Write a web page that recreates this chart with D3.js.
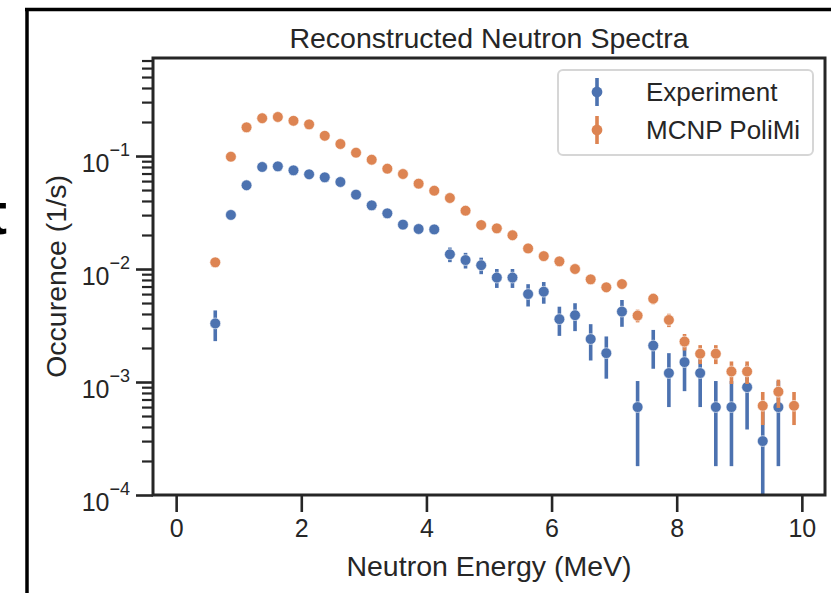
<!DOCTYPE html>
<html>
<head>
<meta charset="utf-8">
<script src="https://cdn.jsdelivr.net/npm/d3@7"></script>
<style>
  body { margin: 0; background: #fff; }
  svg { display: block; font-family: "Liberation Sans", Arial, sans-serif; }
</style>
</head>
<body>
<svg width="831" height="593"></svg>
<script>
// neutron energy bin centres (MeV)
var energy = [0.625, 0.875, 1.125, 1.375, 1.625, 1.875, 2.125, 2.375, 2.625, 2.875,
  3.125, 3.375, 3.625, 3.875, 4.125, 4.375, 4.625, 4.875, 5.125, 5.375,
  5.625, 5.875, 6.125, 6.375, 6.625, 6.875, 7.125, 7.375, 7.625, 7.875,
  8.125, 8.375, 8.625, 8.875, 9.125, 9.375, 9.625, 9.875];

// Experiment (1/s) and its error
var expVal = [0.0033, 0.0301, 0.0551, 0.0800, 0.0810, 0.0747, 0.0689, 0.0648, 0.0589, 0.0455,
  0.0366, 0.0311, 0.0247, 0.0226, 0.0224, 0.0135, 0.0120, 0.0108, 0.0084, 0.0084,
  0.0060, 0.0063, 0.0036, 0.0039, 0.0024, 0.0018, 0.0042, 0.0006, 0.0021, 0.0012,
  0.0015, 0.0012, 0.0006, 0.0006, 0.0009, 0.0003, 0.0006, null];
var expErr = [0.0010, 0.0009, 0.0016, 0.0020, 0.0020, 0.0019, 0.0018, 0.0017, 0.0016, 0.0014,
  0.0012, 0.0011, 0.0010, 0.0009, 0.0009, 0.0020, 0.0019, 0.0018, 0.0016, 0.0016,
  0.00134, 0.00137, 0.00104, 0.00108, 0.00085, 0.00073, 0.00112, 0.00042, 0.00079, 0.0006,
  0.00067, 0.0006, 0.00042, 0.00042, 0.00052, 0.0003, 0.00042, null];

// MCNP PoliMi simulation (1/s) and its error
var mcnpVal = [0.01146, 0.0986, 0.1795, 0.216, 0.2215, 0.205, 0.1906, 0.151, 0.1277, 0.107,
  0.0927, 0.0772, 0.0693, 0.0569, 0.0493, 0.0425, 0.0328, 0.0245, 0.0229, 0.0199,
  0.0152, 0.0130, 0.0117, 0.0100, 0.0081, 0.00689, 0.00736, 0.00387, 0.00546, 0.00354,
  0.00228, 0.00178, 0.00178, 0.00124, 0.00124, 0.000616, 0.00082, 0.000616];
var mcnpErr = [0.00086, 0.0025, 0.0034, 0.0037, 0.0038, 0.0036, 0.0035, 0.0031, 0.0029, 0.0026,
  0.0024, 0.0022, 0.0021, 0.0019, 0.0018, 0.0017, 0.0015, 0.0013, 0.0012, 0.0011,
  0.00099, 0.00091, 0.00087, 0.0008, 0.00072, 0.00066, 0.00069, 0.0005, 0.00059, 0.00048,
  0.00038, 0.00034, 0.00034, 0.00028, 0.00028, 0.0002, 0.00023, 0.0002];

var xTicks = [0, 2, 4, 6, 8, 10];
var yTicks = [1e-4, 1e-3, 1e-2, 1e-1];
var seriesNames = ["Experiment", "MCNP PoliMi"];
var seriesColors = ["#4C72B0", "#DD8452"];

var ink = "#262626";
var svg = d3.select("svg");
svg.append("rect").attr("width", 831).attr("height", 593).attr("fill", "#fff");

// slide frame and cut-off letter at the edge
svg.append("text").attr("x", -13).attr("y", 234)
  .attr("font-size", 60).attr("font-weight", "bold").attr("fill", "#000").text("t");
svg.append("line").attr("x1", 27).attr("x2", 27).attr("y1", 8).attr("y2", 593)
  .attr("stroke", "#000").attr("stroke-width", 3.5);
svg.append("line").attr("x1", 25).attr("x2", 831).attr("y1", 9.5).attr("y2", 9.5)
  .attr("stroke", "#000").attr("stroke-width", 3.5);

var margin = {top: 58, left: 153},
    width = 825 - 153,
    height = 495 - 58;

var g = svg.append("g").attr("transform", "translate(" + margin.left + "," + margin.top + ")");

var x = d3.scaleLinear().domain([-0.37, 10.37]).range([0, width]);
var y = d3.scaleLog().domain([1e-4, 0.737]).range([height, 0]);

g.append("clipPath").attr("id", "clip").append("rect")
  .attr("width", width).attr("height", height);

// axes
var gx = g.append("g").attr("transform", "translate(0," + height + ")")
  .call(d3.axisBottom(x).tickValues(xTicks).tickSize(17).tickPadding(7).tickFormat(d3.format("d")));

var minor = [];
for (var k = -4; k < 0; k++) {
  for (var m = 2; m <= 9; m++) {
    var v = m * Math.pow(10, k);
    if (v <= 0.737) minor.push(v);
  }
}
var gyMinor = g.append("g")
  .call(d3.axisLeft(y).tickValues(minor).tickSize(11).tickFormat(""));
var gy = g.append("g")
  .call(d3.axisLeft(y).tickValues(yTicks).tickSize(17).tickPadding(6).tickFormat(""));

gy.selectAll(".tick text").each(function(d) {
  var t = d3.select(this).attr("dy", null).attr("y", 15);
  t.append("tspan").text("10");
  t.append("tspan").attr("dy", -16).attr("font-size", 18).text("\u2212" + Math.round(-Math.log10(d)));
});

[gx, gy, gyMinor].forEach(function(a) {
  a.selectAll(".domain").remove();
  a.selectAll(".tick line").attr("stroke", ink).attr("stroke-width", 2.6);
  a.selectAll(".tick text").attr("fill", ink).attr("font-size", 25).attr("font-family", null);
});
gyMinor.selectAll(".tick line").attr("stroke-width", 2.2);

// data
var plot = g.append("g").attr("clip-path", "url(#clip)");

function drawSeries(vals, errs, color) {
  var pts = energy.map(function(e, i) { return {e: e, v: vals[i], s: errs[i]}; })
    .filter(function(d) { return d.v != null; });
  var grp = plot.append("g");
  grp.selectAll("line").data(pts).enter().append("line")
    .attr("x1", function(d) { return x(d.e); })
    .attr("x2", function(d) { return x(d.e); })
    .attr("y1", function(d) { return y(d.v + d.s); })
    .attr("y2", function(d) { return y(Math.max(d.v - d.s, 1e-5)); })
    .attr("stroke", color).attr("stroke-width", 3.6);
  grp.selectAll("circle").data(pts).enter().append("circle")
    .attr("cx", function(d) { return x(d.e); })
    .attr("cy", function(d) { return y(d.v); })
    .attr("r", 5.4)
    .attr("fill", color).attr("stroke", "#fff").attr("stroke-width", 0.6);
}
drawSeries(expVal, expErr, seriesColors[0]);
drawSeries(mcnpVal, mcnpErr, seriesColors[1]);

// frame of the axes
g.append("rect").attr("width", width).attr("height", height)
  .attr("fill", "none").attr("stroke", ink).attr("stroke-width", 3);

// labels
g.append("text").attr("x", width / 2).attr("y", -10).attr("text-anchor", "middle")
  .attr("font-size", 28.5).attr("fill", ink).text("Reconstructed Neutron Spectra");
g.append("text").attr("x", width / 2).attr("y", height + 81).attr("text-anchor", "middle")
  .attr("font-size", 28.5).attr("fill", ink).text("Neutron Energy (MeV)");
g.append("text").attr("transform", "translate(-87," + (height / 2) + ") rotate(-90)")
  .attr("text-anchor", "middle").attr("font-size", 28.5).attr("fill", ink).text("Occurence (1/s)");

// legend
var lg = g.append("g").attr("transform", "translate(405,12)");
lg.append("rect").attr("width", 255).attr("height", 85).attr("rx", 5)
  .attr("fill", "#fff").attr("stroke", "#d6d6d6").attr("stroke-width", 2);
seriesNames.forEach(function(name, i) {
  var cy = 22 + i * 38;
  lg.append("line").attr("x1", 39).attr("x2", 39).attr("y1", cy - 14).attr("y2", cy + 14)
    .attr("stroke", seriesColors[i]).attr("stroke-width", 3.6);
  lg.append("circle").attr("cx", 39).attr("cy", cy).attr("r", 5.4).attr("fill", seriesColors[i]);
  lg.append("text").attr("x", 88).attr("y", cy + 9).attr("font-size", 26)
    .attr("fill", ink).text(name);
});
</script>
</body>
</html>
